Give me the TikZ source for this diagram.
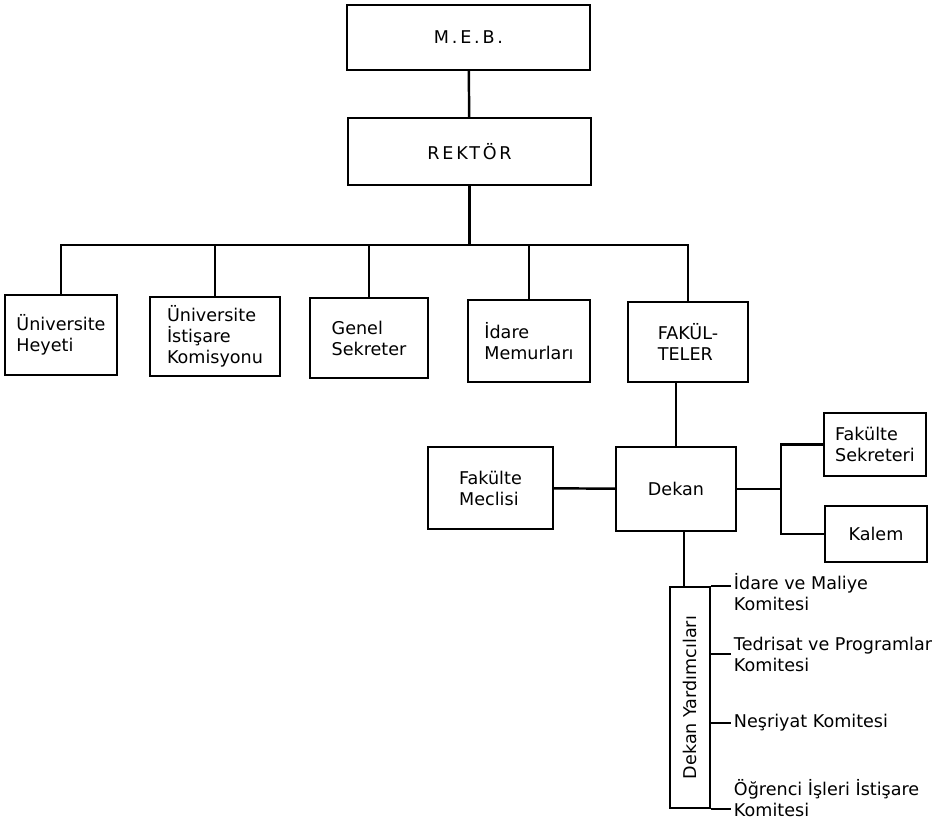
\documentclass[tikz,border=0pt]{standalone}
\usepackage{fontspec}
\setmainfont{DejaVu Sans}
\newfontfamily\widefont[LetterSpace=16]{DejaVu Sans}
\usepackage{graphicx}
\begin{document}
\begin{tikzpicture}[x=0.02cm,y=-0.02cm,line width=1.4pt,
    box/.style={draw,align=left,inner sep=2pt},
    note/.style={anchor=west,align=left,inner sep=1pt}]
        \useasboundingbox (0,0) rectangle (940,821);
        \node[box,minimum width=4.86cm,minimum height=1.3cm] (meb) at (468.5,37.5) {\widefont M.E.B.};
        \node[box,minimum width=4.86cm,minimum height=1.34cm] (rektor) at (469.5,151.5) {\widefont REKTÖR};
        \coordinate (bus) at (469.5,245);
        \node[box,minimum width=2.24cm,minimum height=1.6cm] (heyet) at (61,335) {Üniversite\\Heyeti};
        \node[box,minimum width=2.6cm,minimum height=1.58cm] (istisare) at (215,336.5) {Üniversite\\İstişare\\Komisyonu};
        \node[box,minimum width=2.36cm,minimum height=1.6cm] (genel) at (369,338) {Genel\\Sekreter};
        \node[box,minimum width=2.44cm,minimum height=1.64cm] (idare) at (529,341) {İdare\\Memurları};
        \node[box,minimum width=2.4cm,minimum height=1.6cm] (fakulteler) at (688,342) {FAKÜL-\\TELER};
        \node[box,minimum width=2.5cm,minimum height=1.64cm] (meclis) at (490.5,488) {Fakülte\\Meclisi};
        \node[box,minimum width=2.4cm,minimum height=1.68cm] (dekan) at (676,489) {Dekan};
        \coordinate (br) at (781,489);
        \node[box,minimum width=2.04cm,minimum height=1.26cm] (sekreteri) at (875,444.5) {Fakülte\\Sekreteri};
        \node[box,minimum width=2.04cm,minimum height=1.12cm] (kalem) at (876,534) {Kalem};
        \node[box,minimum width=0.8cm,minimum height=4.42cm] (yard) at (690,697.5) {\rotatebox{90}{Dekan Yardımcıları}};
        \node[note] (k1) at (731,592) {İdare ve Maliye\\Komitesi};
        \node[note] (k2) at (731,654) {Tedrisat ve Programlar\\Komitesi};
        \node[note] (k3) at (731,723) {Neşriyat Komitesi};
        \node[note] (k4) at (731,798) {Öğrenci İşleri İstişare\\Komitesi};
        \draw (meb) -- (rektor);
        \draw (rektor) -- (bus);
        \foreach \n in {heyet,istisare,genel,idare,fakulteler}
          \draw (\n.north) |- (bus);
        \draw (dekan.north) -- (dekan.north |- fakulteler.south);
        \draw (meclis) -- (dekan);
        \draw (dekan) -- (br);
        \draw (sekreteri.west) -| (br) |- (kalem.west);
        \draw ([xshift=0.16cm]dekan.south) -- ([xshift=0.16cm]dekan.south |- yard.north);
        \draw (yard.north east) -- (yard.north east -| k1.west);
        \draw (yard.east |- k2.west) -- (k2.west);
        \draw (yard.east |- k3.west) -- (k3.west);
        \draw (yard.south east) -- (yard.south east -| k4.west);
      \end{tikzpicture}
\end{document}
